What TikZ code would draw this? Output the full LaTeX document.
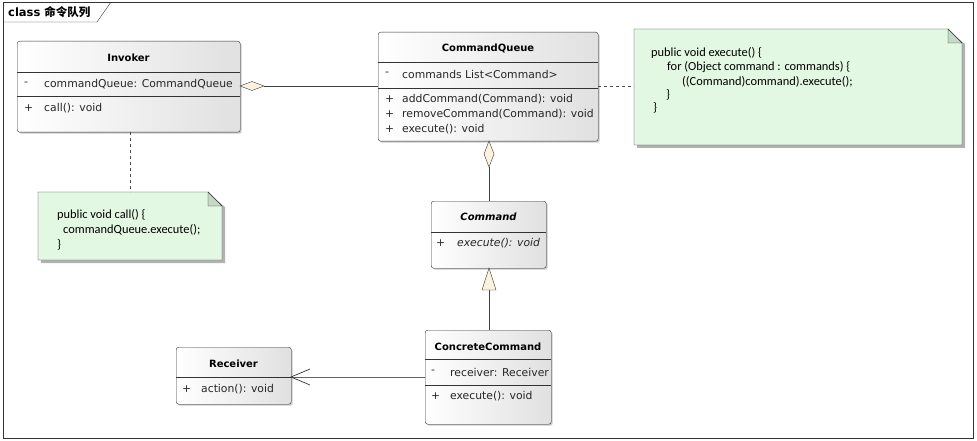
\documentclass[tikz,border=0pt]{standalone}
\usepackage{fontspec}
\setmainfont{DejaVu Sans}
\newfontfamily\notefont{Carlito}
\newfontfamily\cjk{Noto Sans CJK SC}
\usetikzlibrary{arrows.meta,shadows}
\definecolor{notegreen}{HTML}{E3F8E3}
\definecolor{foldgreen}{HTML}{C4D9C4}
\definecolor{cream}{HTML}{FDF1E0}
\tikzset{
  x=1pt,y=-1pt,
  classbox/.style={draw=black!80,rounded corners=2.5pt,left color=white,right color=black!12,
    drop shadow={shadow xshift=1.5pt,shadow yshift=-1.5pt,fill=black!35,opacity=0.6},
    anchor=north west,inner sep=0pt},
  ttl/.style={font=\fontsize{10}{11}\selectfont\bfseries,anchor=center},
  mem/.style={font=\fontsize{10.8}{12}\selectfont,anchor=west,inner sep=0pt,text=black!85},
  notetxt/.style={font=\notefont\fontsize{12.4}{14}\selectfont,anchor=west,inner sep=0pt},
  sep/.style={draw=black!80},
  conn/.style={draw=black!75,line width=0.6pt},
  dashconn/.style={draw=black!70,dashed,dash pattern=on 3pt off 3pt,line width=0.6pt},
}
\newcommand{\notebox}[5]{% name, x1,y1,x2,y2
  \fill[black!30] (#2+3,#3+3) -- (#4-12,#3+3) -- (#4+3,#3+15) -- (#4+3,#5+3) -- (#2+3,#5+3) -- cycle;
  \draw[black!80,fill=notegreen] (#2,#3) -- (#4-14,#3) -- (#4,#3+14) -- (#4,#5) -- (#2,#5) -- cycle;
  \draw[black!80,fill=foldgreen] (#4-14,#3) -- (#4-14,#3+14) -- (#4,#3+14) -- cycle;
  \coordinate (#1-nw) at (#2,#3);
  \coordinate (#1-se) at (#4,#5);
}
\begin{document}
\begin{tikzpicture}
\useasboundingbox (0,0) rectangle (977,441);
\fill[white] (0,0) rectangle (977,441);
% frame
\draw[black!80] (3,2) rectangle (973,438);
\draw[black!80] (3,22) -- (97,22) -- (111,2);
\node[anchor=west,inner sep=0pt,font=\fontsize{11.5}{12}\selectfont\bfseries] (frametitle) at (8,12) {class \cjk 命令队列};

% Invoker
\node[classbox,minimum width=223pt,minimum height=91pt] (inv) at (17,41) {};
\draw[sep] (17,72) -- (240,72);
\draw[sep] (17,96) -- (240,96);
\node[ttl] (invt) at (128.5,57.5) {Invoker};
\node[mem] (inva1) at (24,84) {-};
\node[mem] (inva2) at (44,84) {commandQueue: CommandQueue};
\node[mem] (invm1) at (24,108) {+};
\node[mem] (invm2) at (44,108) {call(): void};

% CommandQueue
\node[classbox,minimum width=220pt,minimum height=109pt] (cq) at (378,32) {};
\draw[sep] (378,62) -- (598,62);
\draw[sep] (378,88) -- (598,88);
\node[ttl] (cqt) at (488,48.5) {CommandQueue};
\node[mem] (cqa1) at (385,74) {-};
\node[mem] (cqa2) at (402,74) {commands List<Command>};
\node[mem] (cqm1) at (385,99) {+};
\node[mem] (cqm2) at (402,99) {addCommand(Command): void};
\node[mem] (cqm3) at (385,114) {+};
\node[mem] (cqm4) at (402,114) {removeCommand(Command): void};
\node[mem] (cqm5) at (385,129) {+};
\node[mem] (cqm6) at (402,129) {execute(): void};

% Command
\node[classbox,minimum width=115pt,minimum height=67pt] (cmd) at (431,201) {};
\draw[sep] (431,232) -- (546,232);
\node[ttl,font=\fontsize{10}{11}\selectfont\bfseries\itshape] (cmdt) at (488.5,217) {Command};
\node[mem] (cmdm1) at (436,243) {+};
\node[mem,font=\fontsize{10.8}{12}\selectfont\itshape] (cmdm2) at (457,243) {execute(): void};

% ConcreteCommand
\node[classbox,minimum width=126pt,minimum height=94pt] (cc) at (425,330) {};
\draw[sep] (425,359) -- (551,359);
\draw[sep] (425,385) -- (551,385);
\node[ttl] (cct) at (488,347) {ConcreteCommand};
\node[mem] (cca1) at (431,372) {-};
\node[mem] (cca2) at (450,372) {receiver: Receiver};
\node[mem] (ccm1) at (431,396) {+};
\node[mem] (ccm2) at (450,396) {execute(): void};

% Receiver
\node[classbox,minimum width=115pt,minimum height=57pt] (rcv) at (176,347) {};
\draw[sep] (176,377) -- (291,377);
\node[ttl] (rcvt) at (233.5,364) {Receiver};
\node[mem] (rcvm1) at (182,389) {+};
\node[mem] (rcvm2) at (201,389) {action(): void};

% Notes
\notebox{n1}{634}{29}{962}{145}
\node[notetxt] (n1a) at (651,53) {public void execute() \{};
\node[notetxt] (n1b) at (667,67.5) {for (Object command : commands) \{};
\node[notetxt] (n1c) at (682,82) {((Command)command).execute();};
\node[notetxt] (n1d) at (666,95) {\}};
\node[notetxt] (n1e) at (653,108) {\}};

\notebox{n2}{38}{192}{222}{260}
\node[notetxt] (n2a) at (57,215) {public void call() \{};
\node[notetxt] (n2b) at (63,230) {commandQueue.execute();};
\node[notetxt] (n2c) at (57,245) {\}};

% connectors
\coordinate (invR) at (240,86);
\coordinate (dA) at (264,86);
\coordinate (cqL) at (378,86);
\draw[conn] (dA) -- (cqL);
\draw[black!80,fill=cream] (invR) -- (252,81.5) -- (dA) -- (252,90.5) -- cycle;

\coordinate (cqB) at (489,141);
\coordinate (dB) at (489,167);
\coordinate (cmdT) at (489,201);
\draw[conn] (dB) -- (cmdT);
\draw[black!80,fill=cream] (cqB) -- (494,154) -- (dB) -- (484,154) -- cycle;

\coordinate (cmdB) at (489,268);
\coordinate (tB) at (489,290);
\coordinate (ccT) at (489,330);
\draw[conn] (tB) -- (ccT);
\draw[black!80,fill=cream] (cmdB) -- (496,290) -- (482,290) -- cycle;

\coordinate (ccL) at (425,377);
\coordinate (rcvR) at (291,377);
\draw[conn,black!60,line width=1pt] (ccL) -- (rcvR);
\draw[black!80,line width=0.7pt] (310,369) -- (rcvR) -- (310,385);

\coordinate (cqR) at (598,86);
\coordinate (n1L) at (634,86);
\draw[dashconn] (cqR) -- (n1L);
\coordinate (invB) at (130,132);
\coordinate (n2T) at (130,192);
\draw[dashconn] (invB) -- (n2T);
\end{tikzpicture}
\end{document}
